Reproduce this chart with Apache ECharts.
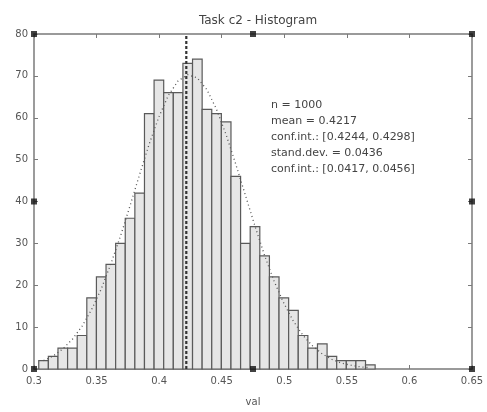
<!DOCTYPE html>
<html>
<head>
<meta charset="utf-8">
<script src="https://cdn.jsdelivr.net/npm/echarts@6/dist/echarts.min.js"></script>
<style>
  html, body { margin: 0; padding: 0; background: #fff; }
  #chart { width: 487px; height: 412px; }
</style>
</head>
<body>
<div id="chart"></div>
<script>
// Histogram of 1000 samples of "val", 35 equal bins
const binStart = 0.3038;
const binWidth = 0.00768;
const counts = [2, 3, 5, 5, 8, 17, 22, 25, 30, 36, 42, 61, 69, 66, 66, 73, 74, 62, 61, 59,
                46, 30, 34, 27, 22, 17, 14, 8, 5, 6, 3, 2, 2, 2, 1];
// Fitted normal curve, evaluated at each bin centre
const fitCurve = [2.0, 3.1, 4.8, 7.1, 10.2, 14.2, 19.1, 25.1, 31.7, 39.0, 46.5, 53.8, 60.2, 65.4,
                  68.8, 70.3, 69.5, 66.7, 62.0, 55.9, 48.9, 41.5, 34.1, 27.1, 20.9, 15.7, 11.4,
                  8.0, 5.5, 3.6, 2.3, 1.4, 0.9, 0.5, 0.3];
const meanValue = 0.4217;
const statLines = [
  'n = 1000',
  'mean = 0.4217',
  'conf.int.: [0.4244, 0.4298]',
  'stand.dev. = 0.0436',
  'conf.int.: [0.0417, 0.0456]'
];
const xTicks = { min: 0.3, max: 0.65, step: 0.05 };
const yTicks = { min: 0, max: 80, step: 10 };
// Corner / mid-side handle squares of the axes box
const handles = [[0.3, 0], [0.3, 40], [0.3, 80], [0.475, 80], [0.65, 80], [0.65, 40], [0.65, 0], [0.475, 0]];

const barData = counts.map((c, k) => [binStart + k * binWidth, binStart + (k + 1) * binWidth, c]);
const curveData = fitCurve.map((v, k) => [binStart + (k + 0.5) * binWidth, v]);

const font = 'DejaVu Sans';
const axisGray = '#7a7a7a';
const labelGray = '#555';

const chart = echarts.init(document.getElementById('chart'), null, { renderer: 'canvas' });

const baseX = {
  type: 'value', min: xTicks.min, max: xTicks.max, interval: xTicks.step,
  splitLine: { show: false },
  axisLine: { show: true, onZero: false, lineStyle: { color: axisGray, width: 1.5 } },
  axisTick: { show: true, inside: true, length: 4, lineStyle: { color: axisGray } }
};
const baseY = {
  type: 'value', min: yTicks.min, max: yTicks.max, interval: yTicks.step,
  splitLine: { show: false },
  axisLine: { show: true, onZero: false, lineStyle: { color: axisGray, width: 1.5 } },
  axisTick: { show: true, inside: true, length: 4, lineStyle: { color: axisGray } }
};

chart.setOption({
  animation: false,
  backgroundColor: '#fff',
  title: {
    text: 'Task c2 - Histogram',
    left: 253, top: 10, textAlign: 'center',
    textStyle: { fontFamily: font, fontSize: 12, fontWeight: 'normal', color: '#444' }
  },
  grid: { left: 34, right: 15, top: 34, bottom: 32 },
  xAxis: [
    Object.assign({}, baseX, {
      position: 'bottom',
      name: 'val', nameLocation: 'middle', nameGap: 28,
      nameTextStyle: { fontFamily: font, fontSize: 10, color: labelGray },
      axisLabel: {
        fontFamily: font, fontSize: 10, color: labelGray, margin: 7,
        formatter: v => String(+v.toFixed(2))
      }
    }),
    Object.assign({}, baseX, { position: 'top', axisLabel: { show: false } })
  ],
  yAxis: [
    Object.assign({}, baseY, {
      position: 'left',
      axisLabel: { fontFamily: font, fontSize: 10, color: labelGray, margin: 6 }
    }),
    Object.assign({}, baseY, { position: 'right', axisLabel: { show: false } })
  ],
  graphic: [{
    type: 'text', left: 271, top: 97, z: 100,
    style: {
      text: statLines.join('\n'),
      font: '11px "DejaVu Sans"',
      lineHeight: 16,
      fill: '#444'
    }
  }],
  series: [
    {
      type: 'custom',
      xAxisIndex: 0, yAxisIndex: 0,
      data: barData,
      encode: { x: [0, 1], y: 2 },
      renderItem: (params, api) => {
        const p0 = api.coord([api.value(0), 0]);
        const p1 = api.coord([api.value(1), api.value(2)]);
        return {
          type: 'rect',
          shape: { x: p0[0], y: p1[1], width: p1[0] - p0[0], height: p0[1] - p1[1] },
          style: { fill: '#e6e6e6', stroke: '#5a5a5a', lineWidth: 1.2 }
        };
      },
      z: 2
    },
    {
      type: 'line',
      data: curveData,
      symbol: 'none',
      smooth: false,
      lineStyle: { color: '#555', width: 1.3, type: [1, 3] },
      z: 4
    },
    {
      type: 'line',
      data: [[meanValue, yTicks.min], [meanValue, yTicks.max]],
      symbol: 'none',
      lineStyle: { color: '#333', width: 2.2, type: [3, 2] },
      z: 5
    },
    {
      type: 'scatter',
      data: handles,
      symbol: 'rect',
      symbolSize: 6,
      clip: false,
      itemStyle: { color: '#111' },
      z: 10
    }
  ]
});
</script>
</body>
</html>
